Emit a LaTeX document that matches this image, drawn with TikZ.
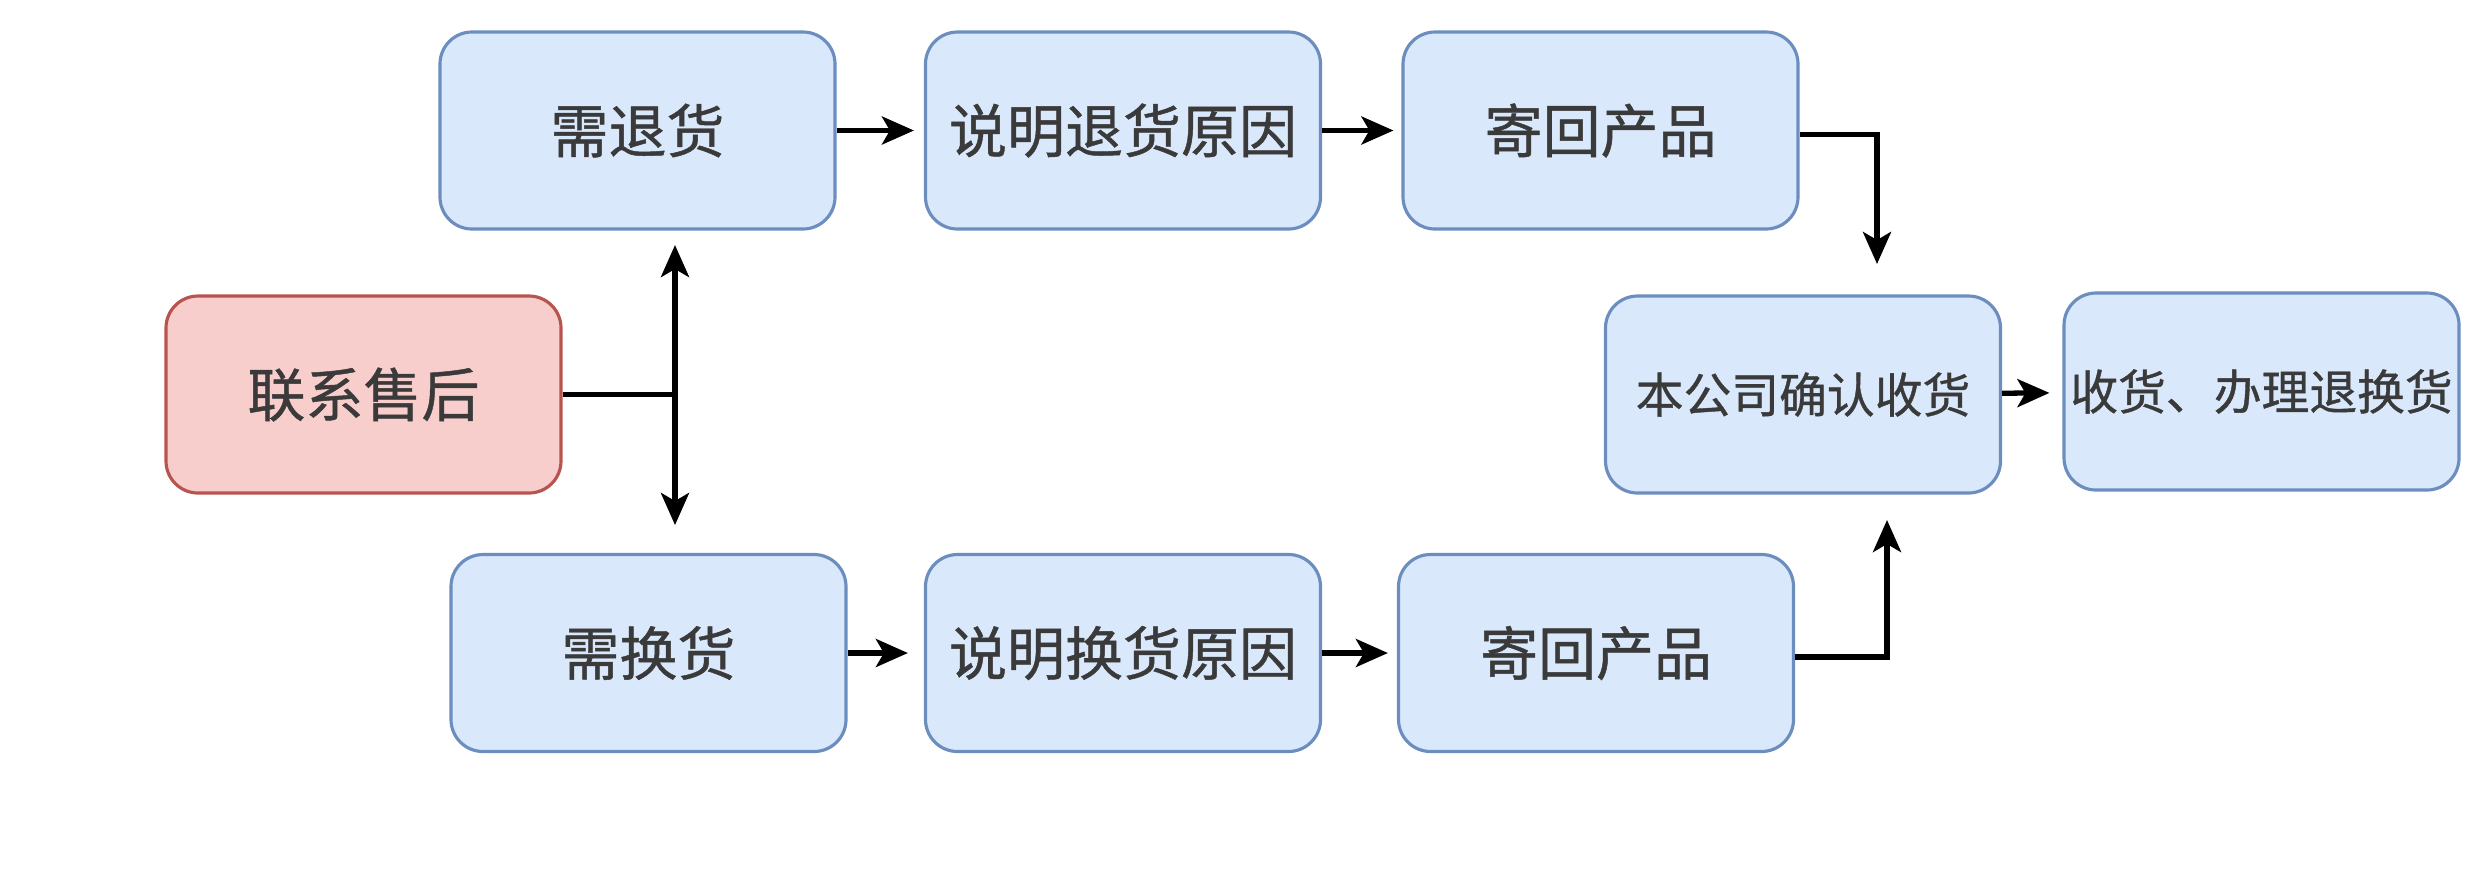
\documentclass[tikz,border=0pt]{standalone}
\usepackage{fontspec}
\setmainfont{Noto Sans CJK SC}[FakeBold=0.8]
\usetikzlibrary{arrows.meta}
\definecolor{boxblue}{HTML}{DAE8FC}
\definecolor{lineblue}{HTML}{6C8EBF}
\definecolor{boxred}{HTML}{F8CECC}
\definecolor{linered}{HTML}{B85450}
\definecolor{txtgray}{HTML}{3A3A3A}
\begin{document}
\begin{tikzpicture}[
    stepbox/.style={draw=lineblue, fill=boxblue, line width=0.9pt, rounded corners=0.32cm,
        minimum width=3.95cm, minimum height=1.97cm, inner sep=0pt, text=txtgray,
        font=\fontsize{16.5}{18}\selectfont},
    smallbox/.style={stepbox, font=\fontsize{13.6}{16}\selectfont},
    startbox/.style={stepbox, draw=linered, fill=boxred},
    flow/.style={-{Stealth[length=0.32cm, width=0.28cm, inset=0.08cm]}, line width=1.5pt, black}
]
                    \useasboundingbox (0,0) rectangle (24.8,-8.88);
                    \node[startbox] (contact) at (3.635, -3.945) {联系售后};
                    \node[stepbox] (tui) at (6.375, -1.305) {需退货};
                    \node[stepbox] (tuiwhy) at (11.23, -1.305) {说明退货原因};
                    \node[stepbox] (tuiback) at (16.005, -1.305) {寄回产品};
                    \node[stepbox] (huan) at (6.485, -6.53) {需换货};
                    \node[stepbox] (huanwhy) at (11.23, -6.53) {说明换货原因};
                    \node[stepbox] (huanback) at (15.96, -6.53) {寄回产品};
                    \node[smallbox] (confirm) at (18.03, -3.945) {本公司确认收货};
                    \node[smallbox] (finish) at (22.615, -3.915) {收货、办理退换货};
                    \coordinate (jt) at (6.75, -2.45);
                    \coordinate (jb) at (6.75, -5.25);
                    \coordinate (ct) at (18.77, -2.64);
                    \coordinate (cb) at (18.87, -5.2);
                    \draw[flow] (contact.east) -| (jt);
                    \draw[flow] (contact.east) -| (jb);
                    \draw[flow, shorten >=0.1cm] (tui) -- (tuiwhy);
                    \draw[flow, shorten >=0.08cm] (tuiwhy) -- (tuiback);
                    \draw[flow, shorten >=0.16cm] (huan) -- (huanwhy);
                    \draw[flow, shorten >=0.09cm] (huanwhy) -- (huanback);
                    \draw[flow] ([yshift=-0.04cm]tuiback.east) -| (ct);
                    \draw[flow] ([yshift=-0.04cm]huanback.east) -| (cb);
                    \draw[flow, shorten >=0.13cm] (confirm) -- (finish);
                \end{tikzpicture}
\end{document}
